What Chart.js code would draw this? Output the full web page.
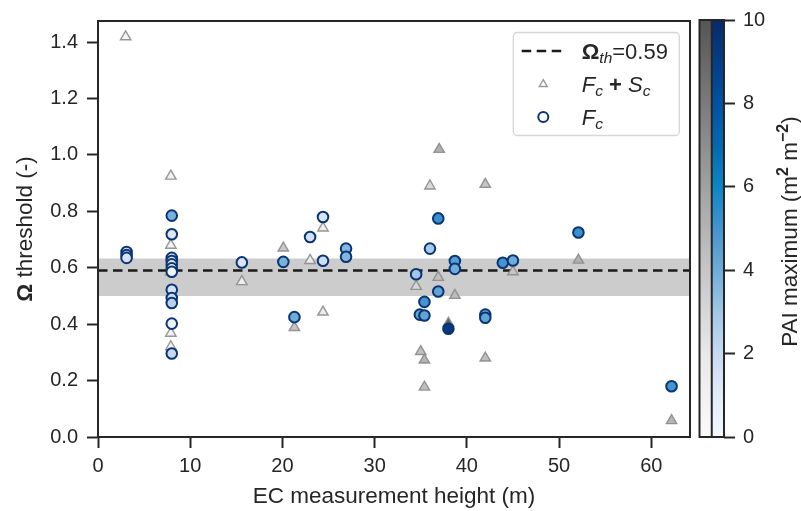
<!DOCTYPE html>
<html>
<head>
<meta charset="utf-8">
<script src="https://cdn.jsdelivr.net/npm/chart.js@4.4.1/dist/chart.umd.min.js"></script>
<style>
    html, body { margin: 0; padding: 0; background: #fff; }
    #wrap { position: relative; width: 801px; height: 511px; }
    canvas { position: absolute; left: 0; top: 0; }
</style>
</head>
<body>
<div id="wrap">
    <canvas id="omegaChart" width="801" height="511"></canvas>
    <canvas id="paiColorbar" width="801" height="511"></canvas>
</div>
<script>
// Datos: sitios con F_c (círculos)
const fcHeight = [3.1, 3.1, 3.1, 8, 8, 8, 8, 8, 8, 8, 8, 8, 8, 8, 8,
    15.6, 20.1, 21.3, 23.0, 24.4, 24.4, 26.9, 26.9, 34.5, 34.9, 35.4, 35.4,
    36.0, 36.9, 36.9, 38.0, 38.7, 38.7, 42.0, 42.0, 43.9, 45.0, 52.1, 62.2];
const fcOmega = [0.656, 0.645, 0.635, 0.785, 0.719, 0.635, 0.624, 0.612, 0.598, 0.586, 0.522, 0.493, 0.475, 0.402, 0.296,
    0.619, 0.621, 0.425, 0.709, 0.780, 0.625, 0.668, 0.639, 0.577, 0.434, 0.479, 0.431,
    0.668, 0.775, 0.516, 0.384, 0.624, 0.596, 0.434, 0.423, 0.618, 0.626, 0.725, 0.180];
const fcPai = [0.5, 2.5, 1.5, 3.8, 1.2, 1.5, 1.0, 1.3, 0.8, 0.3, 1.6, 2.0, 2.4, 0.4, 2.0,
    1.4, 3.8, 4.0, 1.6, 1.4, 1.8, 3.6, 3.6, 3.0, 4.2, 5.0, 4.3,
    2.8, 5.2, 4.3, 9.3, 4.6, 4.0, 4.0, 4.3, 5.0, 4.0, 5.2, 5.0];

// Datos: sitios con F_c + S_c (triángulos)
const fscHeight = [3.0, 7.9, 7.9, 7.9, 7.9, 7.9, 15.6, 20.1, 21.3, 23.0, 24.4, 24.4, 34.5,
    35.0, 35.4, 35.4, 36.0, 37.0, 36.9, 38.7, 38.0, 42.0, 42.0, 45.0, 52.1, 62.2];
const fscOmega = [1.419, 0.925, 0.680, 0.585, 0.368, 0.320, 0.551, 0.670, 0.388, 0.626, 0.741, 0.443, 0.534,
    0.303, 0.273, 0.177, 0.890, 1.020, 0.566, 0.502, 0.403, 0.896, 0.280, 0.586, 0.627, 0.058];
const fscPai = [0.5, 1.0, 1.0, 1.0, 1.0, 1.0, 1.4, 3.8, 4.0, 1.6, 1.4, 1.8, 3.0,
    4.2, 5.0, 4.3, 2.8, 5.2, 4.3, 4.6, 9.3, 4.0, 4.3, 4.0, 5.2, 5.0];

// Umbral y banda
const omegaTh = 0.59;
const bandLow = 0.50;
const bandHigh = 0.633;

// Ejes
const xMax = 64.2;
const yMax = 1.475;
const paiMax = 10;

// Colores
const FONT = "'Liberation Sans', Arial, sans-serif";
const INK = '#262626';
const bluesStops = [[0, '#f3f8fe'], [1, '#e2ecf9'], [2, '#c7daf1'], [3, '#a2c6e7'], [4, '#6eacd9'],
    [5, '#4394cf'], [6, '#0c86c6'], [7, '#0468b1'], [8, '#0052a1'], [9, '#033e87'], [10, '#082a6b']];
const greysStops = [[0, '#fbfbfb'], [2, '#e8e8e8'], [4, '#c6c6c6'], [6, '#a1a1a1'], [8, '#7b7b7b'], [10, '#555555']];

function hexToRgb(h) {
    return [parseInt(h.substr(1, 2), 16), parseInt(h.substr(3, 2), 16), parseInt(h.substr(5, 2), 16)];
}

function cmap(stops, v) {
    if (v <= stops[0][0]) return stops[0][1];
    for (let i = 1; i < stops.length; i++) {
        if (v <= stops[i][0]) {
            const t = (v - stops[i - 1][0]) / (stops[i][0] - stops[i - 1][0]);
            const a = hexToRgb(stops[i - 1][1]);
            const b = hexToRgb(stops[i][1]);
            const c = a.map((ch, k) => Math.round(ch + (b[k] - ch) * t));
            return `rgb(${c[0]},${c[1]},${c[2]})`;
        }
    }
    return stops[stops.length - 1][1];
}

// Dibuja texto con tramos de distinta fuente (subíndices, negrita, cursiva)
function drawRuns(ctx, runs, x, y) {
    let cx = x;
    runs.forEach(r => {
        ctx.font = r.font;
        ctx.fillText(r.t, cx, y + (r.dy || 0));
        cx += ctx.measureText(r.t).width;
    });
    return cx - x;
}

function runsWidth(ctx, runs) {
    let w = 0;
    runs.forEach(r => { ctx.font = r.font; w += ctx.measureText(r.t).width; });
    return w;
}

// Plugin: marco, títulos de ejes y leyenda
const decorPlugin = {
    id: 'decor',
    afterDraw(chart) {
        const ctx = chart.ctx;
        const ca = chart.chartArea;
        ctx.save();
        ctx.strokeStyle = INK;
        ctx.lineWidth = 2;
        ctx.strokeRect(ca.left, ca.top, ca.right - ca.left, ca.bottom - ca.top);

        // Título eje x
        ctx.fillStyle = INK;
        ctx.textBaseline = 'alphabetic';
        const xTitle = [{ t: 'EC measurement height (m)', font: `22.5px ${FONT}` }];
        const xw = runsWidth(ctx, xTitle);
        drawRuns(ctx, xTitle, (ca.left + ca.right) / 2 - xw / 2, 503);

        // Título eje y
        const yTitle = [{ t: 'Ω', font: `bold 22.5px ${FONT}` }, { t: ' threshold (-)', font: `22.5px ${FONT}` }];
        const yw = runsWidth(ctx, yTitle);
        ctx.save();
        ctx.translate(32, (ca.top + ca.bottom) / 2);
        ctx.rotate(-Math.PI / 2);
        drawRuns(ctx, yTitle, -yw / 2, 0);
        ctx.restore();

        // Leyenda
        const bw = 166, bh = 103;
        const bx = ca.right - 10.7 - bw;
        const by = ca.top + 11.5;
        ctx.beginPath();
        ctx.roundRect(bx, by, bw, bh, 4);
        ctx.fillStyle = 'rgba(255,255,255,0.85)';
        ctx.fill();
        ctx.strokeStyle = '#d6d6d6';
        ctx.lineWidth = 1.3;
        ctx.stroke();

        const rows = [by + 18.4, by + 51.7, by + 84.4];
        const mx = bx + 30;
        // línea discontinua
        ctx.beginPath();
        ctx.setLineDash([9.5, 5.5]);
        ctx.moveTo(bx + 8.4, rows[0]);
        ctx.lineTo(bx + 50, rows[0]);
        ctx.strokeStyle = '#1a1a1a';
        ctx.lineWidth = 2.5;
        ctx.stroke();
        ctx.setLineDash([]);
        // triángulo
        ctx.beginPath();
        const tr = 4.6;
        ctx.moveTo(mx, rows[1] - tr);
        ctx.lineTo(mx + tr * 0.866, rows[1] + tr * 0.5);
        ctx.lineTo(mx - tr * 0.866, rows[1] + tr * 0.5);
        ctx.closePath();
        ctx.fillStyle = '#ffffff';
        ctx.fill();
        ctx.strokeStyle = '#9a9a9a';
        ctx.lineWidth = 1.4;
        ctx.stroke();
        // círculo
        ctx.beginPath();
        ctx.arc(mx, rows[2], 5, 0, Math.PI * 2);
        ctx.fillStyle = '#ffffff';
        ctx.fill();
        ctx.strokeStyle = '#0a3474';
        ctx.lineWidth = 2;
        ctx.stroke();

        ctx.fillStyle = INK;
        const tx = bx + 68.4;
        drawRuns(ctx, [
            { t: 'Ω', font: `bold 22px ${FONT}` },
            { t: 'th', font: `italic 15.5px ${FONT}`, dy: 4 },
            { t: '=0.59', font: `22px ${FONT}` }
        ], tx, rows[0] + 7.8);
        drawRuns(ctx, [
            { t: 'F', font: `italic 22px ${FONT}` },
            { t: 'c', font: `italic 15.5px ${FONT}`, dy: 4 },
            { t: ' + ', font: `bold 22px ${FONT}` },
            { t: 'S', font: `italic 22px ${FONT}` },
            { t: 'c', font: `italic 15.5px ${FONT}`, dy: 4 }
        ], tx, rows[1] + 7.8);
        drawRuns(ctx, [
            { t: 'F', font: `italic 22px ${FONT}` },
            { t: 'c', font: `italic 15.5px ${FONT}`, dy: 4 }
        ], tx, rows[2] + 7.8);
        ctx.restore();
    }
};

const circlePoints = fcHeight.map((x, i) => ({ x: x, y: fcOmega[i] }));
const trianglePoints = fscHeight.map((x, i) => ({ x: x, y: fscOmega[i] }));

new Chart(document.getElementById('omegaChart'), {
    type: 'scatter',
    data: {
        datasets: [
            {
                label: 'Fc',
                data: circlePoints,
                pointStyle: 'circle',
                pointRadius: 5.3,
                pointBorderWidth: 2,
                pointBackgroundColor: fcPai.map(v => cmap(bluesStops, v)),
                pointBorderColor: '#0a3474',
                order: 0
            },
            {
                label: 'Fc + Sc',
                data: trianglePoints,
                pointStyle: 'triangle',
                pointRadius: 6,
                pointBorderWidth: 1.4,
                pointBackgroundColor: fscPai.map(v => cmap(greysStops, v)),
                pointBorderColor: 'rgba(140,140,140,0.9)',
                order: 1
            },
            {
                type: 'line',
                label: 'Omega th',
                data: [{ x: 0, y: omegaTh }, { x: xMax, y: omegaTh }],
                borderColor: '#1a1a1a',
                borderWidth: 2.5,
                borderDash: [9.5, 5.5],
                pointRadius: 0,
                fill: false,
                order: 2
            },
            {
                type: 'line',
                label: 'band top',
                data: [{ x: 0, y: bandHigh }, { x: xMax, y: bandHigh }],
                borderWidth: 0,
                pointRadius: 0,
                backgroundColor: '#cccccc',
                fill: '+1',
                order: 3
            },
            {
                type: 'line',
                label: 'band bottom',
                data: [{ x: 0, y: bandLow }, { x: xMax, y: bandLow }],
                borderWidth: 0,
                pointRadius: 0,
                fill: false,
                order: 4
            }
        ]
    },
    options: {
        responsive: false,
        animation: false,
        layout: { padding: { left: 0, top: 17, right: 111, bottom: 0 } },
        plugins: { legend: { display: false }, tooltip: { enabled: false } },
        scales: {
            x: {
                type: 'linear',
                min: 0,
                max: xMax,
                ticks: {
                    stepSize: 10, includeBounds: false, maxRotation: 0, padding: 6,
                    color: INK, font: { family: FONT, size: 20 }
                },
                grid: { drawOnChartArea: false, tickLength: 11, tickWidth: 2, tickColor: INK },
                border: { width: 2, color: INK },
                afterFit: s => { s.height = 74; }
            },
            y: {
                min: 0,
                max: yMax,
                ticks: {
                    stepSize: 0.2, includeBounds: false, padding: 9,
                    color: INK, font: { family: FONT, size: 20 },
                    callback: v => v.toFixed(1)
                },
                grid: { drawOnChartArea: false, tickLength: 11, tickWidth: 2, tickColor: INK },
                border: { width: 2, color: INK },
                afterFit: s => { s.width = 98; }
            }
        }
    },
    plugins: [decorPlugin]
});

// Barra de color PAI
const colorbarPlugin = {
    id: 'colorbarFill',
    beforeDatasetsDraw(chart) {
        const ctx = chart.ctx;
        const ca = chart.chartArea;
        const ys = chart.scales.y;
        const mid = (ca.left + ca.right) / 2;
        ctx.save();
        const gGrey = ctx.createLinearGradient(0, ys.getPixelForValue(0), 0, ys.getPixelForValue(paiMax));
        greysStops.forEach(s => gGrey.addColorStop(s[0] / paiMax, s[1]));
        const gBlue = ctx.createLinearGradient(0, ys.getPixelForValue(0), 0, ys.getPixelForValue(paiMax));
        bluesStops.forEach(s => gBlue.addColorStop(s[0] / paiMax, s[1]));
        ctx.fillStyle = gGrey;
        ctx.fillRect(ca.left, ca.top, mid - ca.left, ca.bottom - ca.top);
        ctx.fillStyle = gBlue;
        ctx.fillRect(mid, ca.top, ca.right - mid, ca.bottom - ca.top);
        ctx.strokeStyle = INK;
        ctx.lineWidth = 2;
        ctx.strokeRect(ca.left, ca.top, ca.right - ca.left, ca.bottom - ca.top);
        ctx.beginPath();
        ctx.moveTo(mid, ca.top);
        ctx.lineTo(mid, ca.bottom);
        ctx.stroke();

        // Etiqueta de la barra
        const label = [
            { t: 'PAI maximum (m', font: `22.5px ${FONT}` },
            { t: '2', font: `bold 16px ${FONT}`, dy: -9 },
            { t: ' m', font: `22.5px ${FONT}` },
            { t: '−2', font: `bold 16px ${FONT}`, dy: -9 },
            { t: ')', font: `22.5px ${FONT}` }
        ];
        const w = runsWidth(ctx, label);
        ctx.fillStyle = INK;
        ctx.translate(797, (ca.top + ca.bottom) / 2 + 3);
        ctx.rotate(-Math.PI / 2);
        drawRuns(ctx, label, -w / 2, 0);
        ctx.restore();
    }
};

new Chart(document.getElementById('paiColorbar'), {
    type: 'scatter',
    data: { datasets: [] },
    options: {
        responsive: false,
        animation: false,
        layout: { padding: { left: 699.5, top: 17, right: 0, bottom: 74 } },
        plugins: { legend: { display: false }, tooltip: { enabled: false } },
        scales: {
            x: { display: false, min: 0, max: 1 },
            y: {
                position: 'right',
                min: 0,
                max: paiMax,
                ticks: { stepSize: 2, padding: 8, color: INK, font: { family: FONT, size: 20 } },
                grid: { drawOnChartArea: false, tickLength: 11, tickWidth: 2, tickColor: INK },
                border: { display: false },
                afterFit: s => { s.width = 77; }
            }
        }
    },
    plugins: [colorbarPlugin]
});
</script>
</body>
</html>
